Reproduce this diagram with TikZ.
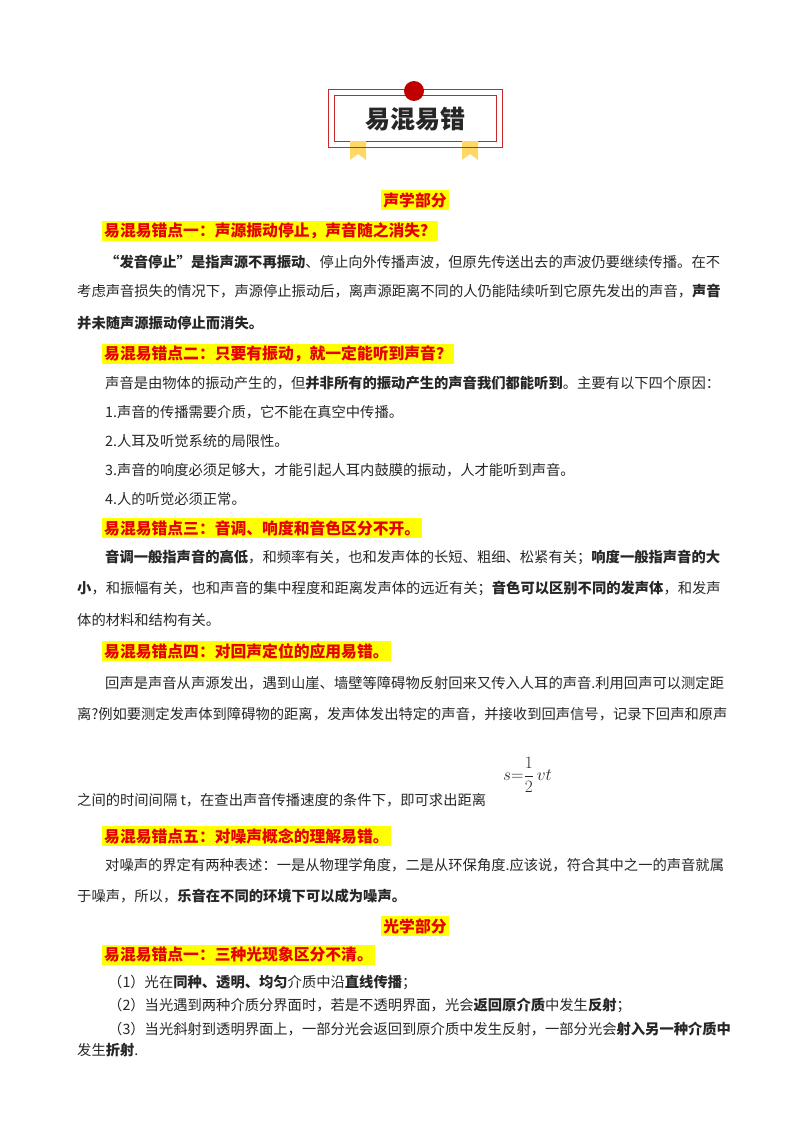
\documentclass[tikz,border=0pt]{standalone}
\usepackage{fontspec}
\setmainfont{Noto Sans CJK SC}
\usepackage{amsmath}
\definecolor{hl}{RGB}{255,255,0}
\definecolor{hred}{RGB}{230,0,0}
\definecolor{bred}{RGB}{200,40,40}
\definecolor{rib}{RGB}{255,215,100}
\begin{document}
\begin{tikzpicture}[x=1pt,y=-1pt,
  body/.style={anchor=west,inner sep=0pt,font=\fontsize{14.3}{15}\selectfont,text=black!85},
  head/.style={anchor=west,inner xsep=2pt,inner ysep=2pt,fill=hl,text=hred,font=\fontsize{15.8}{16}\selectfont\bfseries},
  sect/.style={anchor=center,inner xsep=2pt,inner ysep=2pt,fill=hl,text=hred,font=\fontsize{15.8}{16}\selectfont\bfseries}]
\useasboundingbox (0,0) rectangle (800,1132);
% badge
\fill[rib] (350,141) -- (366,141) -- (366,160) -- (358,154) -- (350,160) -- cycle;
\fill[rib] (462,141) -- (478,141) -- (478,160) -- (470,154) -- (462,160) -- cycle;
\draw[bred,line width=1pt] (328,89) rectangle (502,147);
\draw[bred,line width=1pt,fill=white] (334,95) rectangle (496,141);
\fill[rib] (350,141) rectangle (366,147);
\fill[rib] (462,141) rectangle (478,147);
\fill[red!75!black] (414,91) circle (10);
\node[font=\fontsize{25}{26}\selectfont\bfseries,text=black!85] (title) at (415,119) {易混易错};
% acoustics
\node[sect] (s1) at (415,200) {声学部分};
\node[head] (h1) at (102,231) {易混易错点一：声源振动停止，声音随之消失？};
\node[body] (l1) at (105,262) {\textbf{“发音停止”是指声源不再振动}、停止向外传播声波，但原先传送出去的声波仍要继续传播。在不};
\node[body] (l2) at (77,291) {考虑声音损失的情况下，声源停止振动后，离声源距离不同的人仍能陆续听到它原先发出的声音，\textbf{声音}};
\node[body] (l3) at (77,323) {\textbf{并未随声源振动停止而消失。}};
\node[head] (h2) at (102,354) {易混易错点二：只要有振动，就一定能听到声音？};
\node[body] (l4) at (105,383) {声音是由物体的振动产生的，但\textbf{并非所有的振动产生的声音我们都能听到}。主要有以下四个原因：};
\node[body] (l5) at (105,412) {1.声音的传播需要介质，它不能在真空中传播。};
\node[body] (l6) at (105,441) {2.人耳及听觉系统的局限性。};
\node[body] (l7) at (105,470) {3.声音的响度必须足够大，才能引起人耳内鼓膜的振动，人才能听到声音。};
\node[body] (l8) at (105,499) {4.人的听觉必须正常。};
\node[head] (h3) at (102,528) {易混易错点三：音调、响度和音色区分不开。};
\node[body] (l9) at (105,557) {\textbf{音调一般指声音的高低}，和频率有关，也和发声体的长短、粗细、松紧有关；\textbf{响度一般指声音的大}};
\node[body] (l10) at (77,588) {\textbf{小}，和振幅有关，也和声音的集中程度和距离发声体的远近有关；\textbf{音色可以区别不同的发声体}，和发声};
\node[body] (l11) at (77,620) {体的材料和结构有关。};
\node[head] (h4) at (102,651) {易混易错点四：对回声定位的应用易错。};
\node[body] (l12) at (105,683) {回声是声音从声源发出，遇到山崖、墙壁等障碍物反射回来又传入人耳的声音.利用回声可以测定距};
\node[body] (l13) at (77,714) {离?例如要测定发声体到障碍物的距离，发声体发出特定的声音，并接收到回声信号，记录下回声和原声};
\node[body,font=\fontsize{16}{17}\selectfont] (f) at (503,775) {$s{=}\dfrac{1}{2}\,vt$};
\node[body] (l14) at (77,800) {之间的时间间隔 t，在查出声音传播速度的条件下，即可求出距离};
\node[head] (h5) at (102,836) {易混易错点五：对噪声概念的理解易错。};
\node[body] (l15) at (105,865) {对噪声的界定有两种表述：一是从物理学角度，二是从环保角度.应该说，符合其中之一的声音就属};
\node[body] (l16) at (77,896) {于噪声，所以，\textbf{乐音在不同的环境下可以成为噪声。}};
% optics
\node[sect] (s2) at (415,926) {光学部分};
\node[head] (h6) at (102,955) {易混易错点一：三种光现象区分不清。};
\node[body] (l17) at (108,982) {（1）光在\textbf{同种、透明、均匀}介质中沿\textbf{直线传播}；};
\node[body] (l18) at (108,1005) {（2）当光遇到两种介质分界面时，若是不透明界面，光会\textbf{返回原介质}中发生\textbf{反射}；};
\node[body] (l19) at (108,1029) {（3）当光斜射到透明界面上，一部分光会返回到原介质中发生反射，一部分光会\textbf{射入另一种介质中}};
\node[body] (l20) at (77,1050) {发生\textbf{折射}.};
\end{tikzpicture}
\end{document}
